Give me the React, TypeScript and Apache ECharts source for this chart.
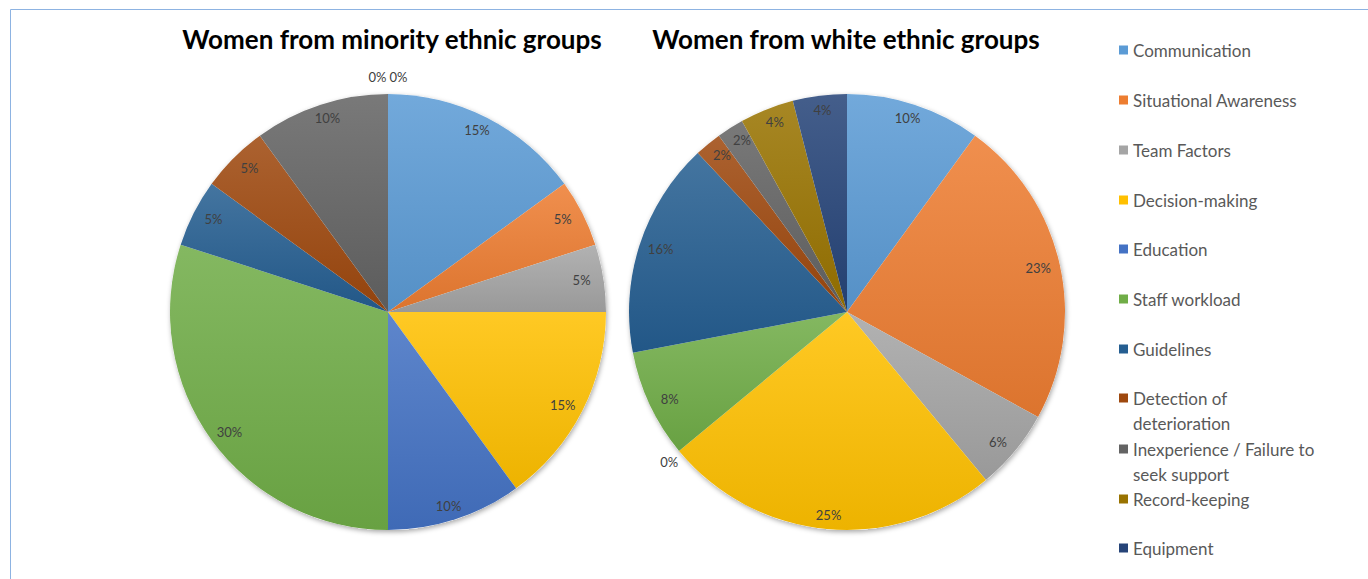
import React, { useEffect, useRef } from "react";
import * as echarts from "echarts";

const categories = [
  "Communication",
  "Situational Awareness",
  "Team Factors",
  "Decision-making",
  "Education",
  "Staff workload",
  "Guidelines",
  "Detection of deterioration",
  "Inexperience / Failure to seek support",
  "Record-keeping",
  "Equipment",
];
const legendLabels = [
  "Communication",
  "Situational Awareness",
  "Team Factors",
  "Decision-making",
  "Education",
  "Staff workload",
  "Guidelines",
  "Detection of\ndeterioration",
  "Inexperience / Failure to\nseek support",
  "Record-keeping",
  "Equipment",
];
const minorityValues = [15, 5, 5, 15, 10, 30, 5, 5, 10, 0, 0];
const whiteValues = [10, 23, 6, 25, 0, 8, 16, 2, 2, 4, 4];
const titles = ["Women from minority ethnic groups", "Women from white ethnic groups"];

const colors = [
  "#5B9BD5",
  "#ED7D31",
  "#A5A5A5",
  "#FFC000",
  "#4472C4",
  "#70AD47",
  "#255E91",
  "#9E480E",
  "#636363",
  "#997300",
  "#264478",
];

const centers = [
  [388, 312],
  [847, 312],
];
const RADIUS = 218;
const legendCenters = [50, 100, 150, 200, 249, 299, 349, 398, 449, 499, 548];
const FONT = "Lato, 'Open Sans', sans-serif";

function shade(hex: string, amt: number) {
  const n = parseInt(hex.slice(1), 16);
  let r = (n >> 16) & 255,
    g = (n >> 8) & 255,
    b = n & 255;
  const t = amt > 0 ? 255 : 0;
  const a = Math.abs(amt);
  r = Math.round(r + (t - r) * a);
  g = Math.round(g + (t - g) * a);
  b = Math.round(b + (t - b) * a);
  return "rgb(" + r + "," + g + "," + b + ")";
}

function grad(c: string) {
  return new echarts.graphic.LinearGradient(0, 0, 0, 1, [
    { offset: 0, color: shade(c, 0.14) },
    { offset: 1, color: shade(c, -0.07) },
  ]);
}

function shadowSeries(si: number) {
  return {
    type: "pie",
    center: centers[si],
    radius: [0, RADIUS],
    silent: true,
    z: 1,
    label: { show: false },
    labelLine: { show: false },
    itemStyle: {
      color: "#ffffff",
      shadowBlur: 5,
      shadowColor: "rgba(0,0,0,0.35)",
      shadowOffsetX: 1,
      shadowOffsetY: 2,
    },
    data: [{ name: "__bg" + si, value: 1 }],
    legendHoverLink: false,
  };
}

function makeSeries(values: number[], si: number) {
  return {
    type: "pie",
    name: titles[si],
    center: centers[si],
    radius: [0, RADIUS],
    startAngle: 90,
    clockwise: true,
    avoidLabelOverlap: false,
    silent: true,
    z: 2,
    label: {
      show: true,
      position: "inside",
      formatter: "{c}%",
      color: "#404040",
      fontSize: 13,
      fontFamily: FONT,
    },
    labelLine: { show: false },
    itemStyle: { borderWidth: 0 },
    labelLayout: (params: any) => {
      const i = params.dataIndex;
      const c = centers[si];
      const r = params.labelRect;
      const lx = r.x + r.width / 2;
      const ly = r.y + r.height / 2;
      const vx = lx - c[0];
      const vy = ly - c[1];
      if (values[i] > 0) return { dx: vx * 0.75, dy: vy * 0.82 };
      let s = i;
      while (s > 0 && values[s - 1] === 0) s--;
      let e = i;
      while (e < values.length - 1 && values[e + 1] === 0) e++;
      const n = e - s + 1;
      const k = i - s;
      return { dx: vx * 1.06 + (k - (n - 1) / 2) * (r.width + 3), dy: vy * 1.1 };
    },
    data: categories.map((name, i) => ({
      name,
      value: values[i],
      itemStyle: { color: grad(colors[i]) },
    })),
  };
}

export default function App() {
  const ref = useRef<HTMLDivElement>(null);
  useEffect(() => {
    if (!ref.current) return;
    const chart = echarts.init(ref.current, undefined, { renderer: "svg" });
    const legends = categories.map((name, i) => {
      const lines = legendLabels[i].split("\n").length;
      const text = lines > 1 ? "\n" + legendLabels[i] : legendLabels[i];
      return {
        data: [{ name, itemStyle: { color: colors[i] } }],
        orient: "vertical",
        left: 1119,
        top: legendCenters[i] - (25 * lines - 12.5),
        padding: 0,
        icon: "rect",
        itemWidth: 9,
        itemHeight: 9,
        itemGap: 0,
        selectedMode: false,
        formatter: () => text,
        textStyle: {
          color: "#595959",
          fontSize: 17,
          lineHeight: 25,
          fontFamily: FONT,
        },
      };
    });
    chart.setOption({
      animation: false,
      backgroundColor: "#ffffff",
      legend: legends,
      graphic: [
        {
          type: "rect",
          shape: { x: 10.5, y: 9.5, width: 1400, height: 600 },
          style: { fill: "none", stroke: "#8DB3E2", lineWidth: 1 },
          silent: true,
        },
        {
          type: "text",
          x: 392,
          y: 39,
          style: {
            text: titles[0],
            align: "center",
            verticalAlign: "middle",
            fill: "#000000",
            font: "bold 26px " + FONT,
          },
        },
        {
          type: "text",
          x: 846,
          y: 39,
          style: {
            text: titles[1],
            align: "center",
            verticalAlign: "middle",
            fill: "#000000",
            font: "bold 26px " + FONT,
          },
        },
      ],
      series: [
        shadowSeries(0),
        shadowSeries(1),
        makeSeries(minorityValues, 0),
        makeSeries(whiteValues, 1),
      ],
    });
    return () => chart.dispose();
  }, []);
  return (
    <div
      ref={ref}
      style={{ position: "absolute", left: 0, top: 0, width: 1368, height: 579 }}
    />
  );
}
